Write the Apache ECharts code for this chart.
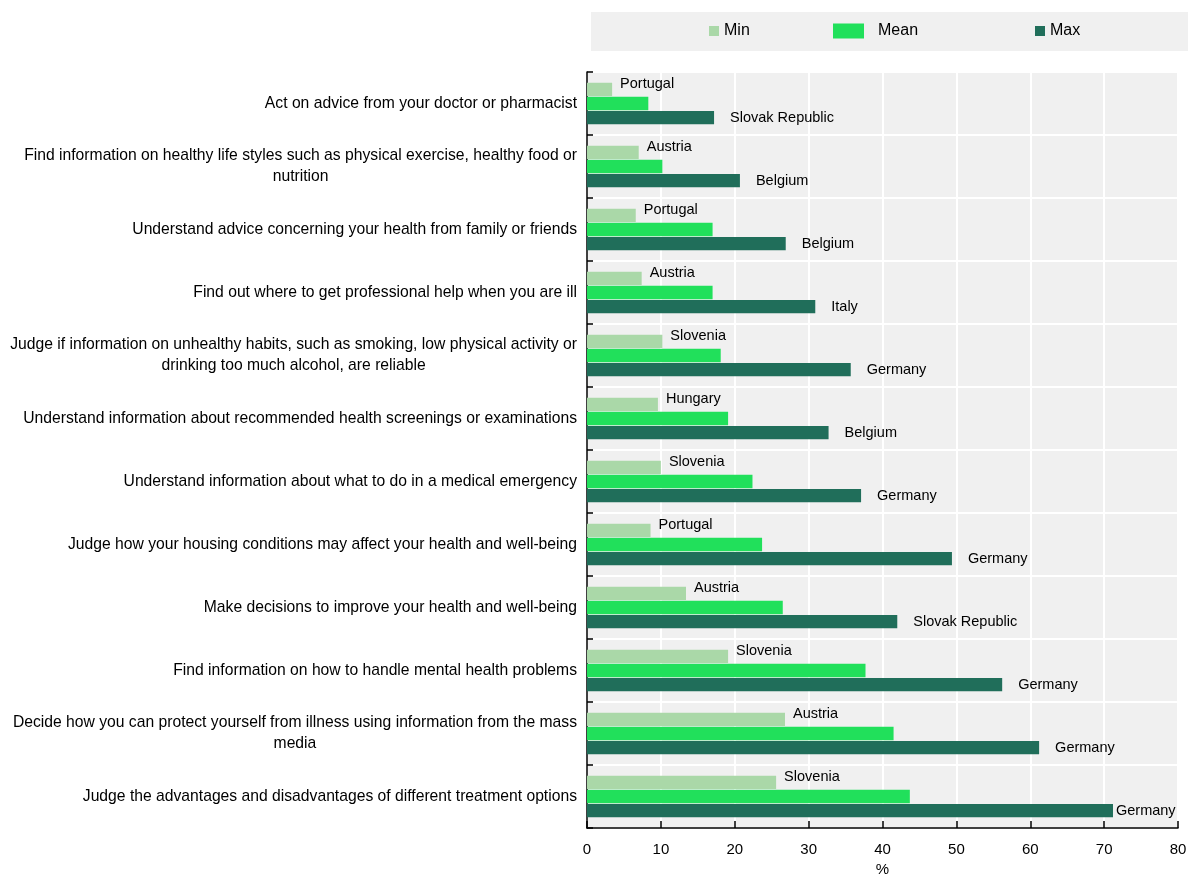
<!DOCTYPE html>
<html>
<head>
<meta charset="utf-8">
<script src="https://cdn.jsdelivr.net/npm/echarts@6/dist/echarts.min.js"></script>
<style>
html,body{margin:0;padding:0;background:#fff;}
#chart{width:1189px;height:874px;}
</style>
</head>
<body>
<div id="chart"></div>
<script>
const categories = [
  "Act on advice from your doctor or pharmacist",
  "Find information on healthy life styles such as physical exercise, healthy food or\nnutrition",
  "Understand advice concerning your health from family or friends",
  "Find out where to get professional help when you are ill",
  "Judge if information on unhealthy habits, such as smoking, low physical activity or\ndrinking too much alcohol, are reliable",
  "Understand information about recommended health screenings or examinations",
  "Understand information about what to do in a medical emergency",
  "Judge how your housing conditions may affect your health and well-being",
  "Make decisions to improve your health and well-being",
  "Find information on how to handle mental health problems",
  "Decide how you can protect yourself from illness using information from the mass\nmedia",
  "Judge the advantages and disadvantages of different treatment options"
];
const minValues  = [3.4, 7.0, 6.6, 7.4, 10.2, 9.6, 10.0, 8.6, 13.4, 19.1, 26.8, 25.6];
const meanValues = [8.3, 10.2, 17.0, 17.0, 18.1, 19.1, 22.4, 23.7, 26.5, 37.7, 41.5, 43.7];
const maxValues  = [17.2, 20.7, 26.9, 30.9, 35.7, 32.7, 37.1, 49.4, 42.0, 56.2, 61.2, 71.2];
const minCountries = ["Portugal","Austria","Portugal","Austria","Slovenia","Hungary","Slovenia","Portugal","Austria","Slovenia","Austria","Slovenia"];
const maxCountries = ["Slovak Republic","Belgium","Belgium","Italy","Germany","Belgium","Germany","Germany","Slovak Republic","Germany","Germany","Germany"];
const xTicks = [0, 10, 20, 30, 40, 50, 60, 70, 80];

const FONT = "'Liberation Sans', Arial, sans-serif";
const C_MIN = '#aad8a8', C_MEAN = '#21e05b', C_MAX = '#206e5a';

const chart = echarts.init(document.getElementById('chart'), null, {renderer: 'canvas'});

const maxData = maxValues.map(v => ({
  value: v,
  label: { distance: v > 65 ? 3 : 16 }
}));

const legendBase = {
  orient: 'horizontal', top: 23, padding: 0, icon: 'rect',
  itemWidth: 10, itemHeight: 10, selectedMode: false,
  textStyle: { fontFamily: FONT, fontSize: 16, color: '#000' }
};

chart.setOption({
  animation: false,
  textStyle: { fontFamily: FONT },
  graphic: [{
    type: 'rect', left: 591, top: 12, z: -10,
    shape: { width: 597, height: 39 },
    style: { fill: '#f0f0f0' }
  }],
  legend: [
    Object.assign({}, legendBase, { left: 709, data: ['Min'] }),
    Object.assign({}, legendBase, { left: 833, itemWidth: 31, itemHeight: 15, data: ['Mean'],
      textStyle: { fontFamily: FONT, fontSize: 16, color: '#000', padding: [0, 0, 0, 9] } }),
    Object.assign({}, legendBase, { left: 1035, data: ['Max'] })
  ],
  grid: {
    left: 587, right: 11, top: 72, height: 756,
    outerBoundsMode: 'none', containLabel: false,
    show: true, backgroundColor: '#f0f0f0', borderWidth: 0
  },
  xAxis: {
    type: 'value', min: xTicks[0], max: xTicks[xTicks.length - 1], interval: 10,
    name: '%', nameLocation: 'middle', nameGap: 33,
    nameTextStyle: { fontFamily: FONT, fontSize: 15, color: '#000' },
    axisLine: { show: true, lineStyle: { color: '#000', width: 1.5 } },
    axisTick: { show: true, inside: true, length: 7, lineStyle: { color: '#000', width: 1.5 } },
    axisLabel: { fontFamily: FONT, fontSize: 15, color: '#000', margin: 14 },
    splitLine: { show: true, lineStyle: { color: '#ffffff', width: 2 } }
  },
  yAxis: {
    type: 'category', data: categories, inverse: true,
    axisLine: { show: true, lineStyle: { color: '#000', width: 1.5 } },
    axisTick: { show: true, inside: true, length: 6, lineStyle: { color: '#000', width: 1.5 } },
    splitLine: { show: true, lineStyle: { color: '#ffffff', width: 2 } },
    axisLabel: {
      margin: 10, color: '#000', fontFamily: FONT, fontSize: 15.7, lineHeight: 21,
      formatter: v => v.split('\n').map(l => '{c|' + l + '}').join('\n'),
      rich: { c: { align: 'center', fontFamily: FONT, fontSize: 15.7, lineHeight: 21, color: '#000' } }
    }
  },
  series: [
    {
      name: 'Min', type: 'bar', data: minValues, barWidth: 13.3, barGap: '6%',
      itemStyle: { color: C_MIN },
      label: {
        show: true, position: 'right', distance: 8, offset: [0, -5],
        fontFamily: FONT, fontSize: 14.5, color: '#000',
        formatter: p => minCountries[p.dataIndex]
      }
    },
    {
      name: 'Mean', type: 'bar', data: meanValues, barWidth: 13.3, barGap: '6%',
      itemStyle: { color: C_MEAN }
    },
    {
      name: 'Max', type: 'bar', data: maxData, barWidth: 13.3, barGap: '6%',
      itemStyle: { color: C_MAX },
      label: {
        show: true, position: 'right', distance: 16,
        fontFamily: FONT, fontSize: 14.5, color: '#000',
        formatter: p => maxCountries[p.dataIndex]
      }
    }
  ]
});
</script>
</body>
</html>
